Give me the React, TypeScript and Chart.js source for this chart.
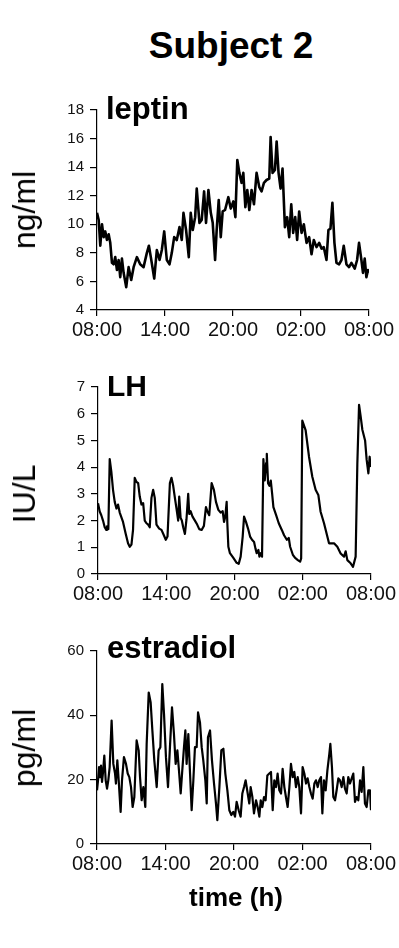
import React, { useEffect, useRef } from "react";
import { Chart, registerables } from "chart.js";

Chart.register(...registerables);

const FONT = "'Liberation Sans', Arial, Helvetica, sans-serif";

const chartTitle = "Subject 2";
const xAxisTitle = "time (h)";
const xTickHours = [0, 6, 12, 18, 24];
const xTickLabels = ["08:00", "14:00", "20:00", "02:00", "08:00"];

// Leptin (ng/ml)
const leptinHours = [
  0.0, 0.15, 0.29, 0.44, 0.59, 0.73, 0.88, 1.03, 1.17, 1.32,
  1.47, 1.61, 1.76, 1.91, 2.05, 2.2, 2.35, 2.58, 2.79, 3.02,
  3.23, 3.52, 3.81, 4.11, 4.4, 4.58, 4.75, 5.05, 5.28, 5.52,
  5.72, 5.93, 6.16, 6.4, 6.6, 6.81, 7.04, 7.28, 7.48, 7.63,
  7.86, 8.1, 8.27, 8.45, 8.66, 8.8, 9.04, 9.24, 9.45, 9.62,
  9.83, 10.04, 10.21, 10.42, 10.56, 10.74, 10.92, 11.09, 11.3, 11.59,
  11.8, 12.03, 12.21, 12.38, 12.56, 12.76, 12.91, 13.09, 13.26, 13.44,
  13.64, 13.85, 14.08, 14.32, 14.52, 14.73, 14.96, 15.2, 15.32, 15.49,
  15.7, 15.85, 16.02, 16.2, 16.37, 16.58, 16.78, 16.96, 17.14, 17.31,
  17.49, 17.66, 17.84, 18.05, 18.25, 18.49, 18.72, 18.93, 19.13, 19.37,
  19.6, 19.81, 20.01, 20.25, 20.42, 20.6, 20.77, 20.95, 21.13, 21.36,
  21.57, 21.77, 22.01, 22.24, 22.45, 22.74, 22.95, 23.12, 23.33, 23.47,
  23.62, 23.77, 23.91, 24.0,
];
const leptinValues = [
  10.8, 10.3, 8.5, 10.0, 9.1, 9.5, 8.9, 9.3, 8.7, 7.3,
  7.2, 7.7, 6.8, 7.5, 6.3, 7.6, 6.6, 5.6, 7.0, 6.1,
  7.0, 7.7, 7.2, 7.0, 8.0, 8.5, 7.7, 6.2, 8.2, 7.5,
  8.2, 9.5, 7.5, 7.2, 8.0, 9.1, 8.9, 9.8, 8.9, 10.8,
  9.6, 7.7, 10.8, 9.6, 10.5, 12.5, 10.1, 10.3, 12.3, 10.1,
  12.4, 10.8, 10.1, 7.5, 9.6, 11.7, 9.1, 10.9, 11.0, 11.9,
  11.1, 11.6, 10.5, 14.5, 13.6, 12.9, 13.6, 11.2, 12.4, 11.0,
  12.4, 11.4, 13.6, 12.6, 12.3, 12.9, 13.1, 13.2, 16.1, 13.6,
  13.8, 15.8, 13.6, 12.5, 13.9, 9.8, 10.5, 9.1, 11.4, 9.4,
  10.5, 8.9, 10.9, 9.4, 10.0, 8.7, 9.1, 7.9, 8.9, 8.4,
  8.7, 8.3, 8.4, 7.5, 9.6, 9.7, 11.5, 8.7, 7.3, 7.2,
  7.5, 8.5, 7.2, 7.0, 7.3, 6.9, 7.5, 8.7, 7.5, 6.6,
  7.6, 6.3, 6.8, 6.6,
];

// LH (IU/L)
const lhHours = [
  0.0, 0.15, 0.29, 0.44, 0.59, 0.73, 0.79, 0.91, 1.03, 1.18,
  1.32, 1.47, 1.62, 1.76, 1.91, 2.2, 2.44, 2.64, 2.79, 2.94,
  3.08, 3.23, 3.38, 3.53, 3.67, 3.82, 3.97, 4.11, 4.26, 4.41,
  4.55, 4.7, 4.85, 4.99, 5.14, 5.38, 5.58, 5.79, 5.96, 6.11,
  6.32, 6.46, 6.61, 6.76, 6.9, 7.05, 7.14, 7.26, 7.37, 7.49,
  7.64, 7.78, 7.93, 8.02, 8.14, 8.31, 8.52, 8.72, 8.9, 9.11,
  9.31, 9.49, 9.61, 9.78, 9.99, 10.19, 10.37, 10.58, 10.78, 10.96,
  11.08, 11.19, 11.31, 11.37, 11.46, 11.6, 11.9, 12.19, 12.37, 12.54,
  12.72, 12.84, 13.01, 13.19, 13.37, 13.54, 13.72, 13.84, 13.95, 14.1,
  14.19, 14.31, 14.42, 14.54, 14.66, 14.78, 14.84, 14.95, 15.07, 15.19,
  15.31, 15.42, 15.66, 15.89, 16.16, 16.36, 16.6, 16.77, 16.89, 17.13,
  17.33, 17.57, 17.77, 17.86, 17.96, 18.25, 18.55, 18.84, 19.13, 19.37,
  19.57, 19.87, 20.31, 20.75, 21.04, 21.33, 21.63, 21.77, 21.92, 22.21,
  22.42, 22.65, 22.8, 22.95, 23.09, 23.24, 23.48, 23.62, 23.77, 23.88,
  23.97,
];
const lhValues = [
  2.65, 2.34, 2.2, 2.0, 1.75, 1.65, 1.78, 1.68, 4.3, 3.8,
  3.15, 2.7, 2.45, 2.6, 2.3, 1.95, 1.5, 1.15, 1.02, 1.1,
  1.65, 3.6, 3.45, 3.4, 2.9, 2.6, 2.65, 2.0, 1.9, 1.85,
  1.75, 2.85, 3.15, 2.85, 1.85, 1.7, 1.65, 1.45, 1.28, 1.4,
  3.4, 3.6, 3.3, 2.85, 2.45, 2.0, 2.9, 2.1, 2.0, 1.75,
  1.5, 2.05, 3.0, 2.25, 2.35, 2.15, 2.0, 1.85, 1.68, 1.65,
  1.8, 2.5, 2.35, 2.2, 3.4, 3.15, 2.7, 2.4, 2.3, 2.35,
  1.95, 2.15, 2.7, 1.9, 1.02, 0.78, 0.6, 0.42, 0.38, 0.65,
  1.4, 2.15, 1.95, 1.7, 1.4, 1.28, 1.2, 0.96, 0.78, 0.9,
  0.65, 0.78, 0.65, 4.3, 3.5, 4.15, 4.5, 3.4, 3.3, 3.5,
  3.0, 2.5, 2.2, 1.9, 1.65, 1.45, 1.28, 1.35, 1.02, 0.72,
  0.6, 0.52, 0.46, 0.58, 5.74, 5.39, 4.39, 3.64, 3.15, 2.96,
  2.33, 1.9, 1.15, 1.15, 1.02, 0.77, 0.65, 0.85, 0.52, 0.4,
  0.27, 0.65, 4.15, 6.33, 5.9, 5.4, 5.0, 4.27, 3.77, 4.39,
  4.0,
];

// Estradiol (pg/ml)
const e2Hours = [
  0.0, 0.09, 0.18, 0.26, 0.35, 0.44, 0.53, 0.64, 0.76, 0.88,
  0.99, 1.11, 1.28, 1.43, 1.58, 1.66, 1.78, 1.9, 2.07, 2.19,
  2.36, 2.54, 2.69, 2.83, 2.98, 3.12, 3.27, 3.47, 3.65, 3.77,
  3.91, 4.06, 4.23, 4.35, 4.53, 4.7, 4.85, 5.02, 5.23, 5.4,
  5.55, 5.72, 5.87, 6.04, 6.22, 6.39, 6.57, 6.74, 6.89, 7.04,
  7.18, 7.33, 7.47, 7.62, 7.74, 7.85, 8.0, 8.15, 8.29, 8.44,
  8.58, 8.73, 8.85, 9.02, 9.17, 9.31, 9.49, 9.61, 9.72, 9.9,
  10.07, 10.25, 10.42, 10.54, 10.72, 10.89, 11.07, 11.24, 11.42, 11.59,
  11.77, 11.94, 12.09, 12.23, 12.41, 12.58, 12.73, 12.88, 13.02, 13.2,
  13.34, 13.46, 13.61, 13.75, 13.93, 14.07, 14.22, 14.34, 14.48, 14.63,
  14.77, 14.92, 15.09, 15.24, 15.39, 15.53, 15.68, 15.82, 15.97, 16.12,
  16.26, 16.41, 16.55, 16.7, 16.85, 16.99, 17.14, 17.28, 17.43, 17.58,
  17.72, 17.87, 18.01, 18.16, 18.31, 18.45, 18.6, 18.74, 18.89, 19.04,
  19.18, 19.33, 19.47, 19.62, 19.74, 19.88, 20.03, 20.18, 20.35, 20.44,
  20.58, 20.7, 20.85, 20.99, 21.14, 21.28, 21.43, 21.58, 21.72, 21.87,
  22.01, 22.16, 22.31, 22.45, 22.6, 22.74, 22.89, 23.04, 23.18, 23.33,
  23.47, 23.62, 23.77, 23.91, 24.0,
];
const e2Values = [
  16.7, 19.8, 23.9, 20.8, 24.4, 19.3, 22.4, 27.5, 19.8, 17.2,
  19.8, 23.9, 38.4, 24.9, 21.9, 18.8, 26.0, 19.8, 10.0, 19.8,
  27.0, 24.9, 21.9, 20.8, 17.7, 11.5, 14.6, 32.2, 29.1, 20.8,
  13.6, 17.7, 11.5, 31.1, 47.1, 44.0, 35.3, 26.0, 17.7, 29.1,
  30.1, 49.7, 40.4, 27.0, 17.7, 30.1, 42.5, 34.2, 24.9, 29.1,
  22.9, 15.7, 22.9, 30.1, 35.3, 24.9, 34.2, 21.9, 10.5, 19.8,
  30.1, 30.1, 40.9, 37.8, 30.1, 26.0, 19.8, 12.6, 33.2, 35.3,
  26.0, 18.8, 12.6, 7.4, 17.7, 29.1, 29.6, 21.9, 16.7, 10.5,
  9.0, 10.0, 8.5, 13.1, 10.5, 8.5, 15.7, 17.7, 19.8, 15.7,
  12.6, 17.7, 14.6, 9.5, 13.6, 11.5, 8.5, 13.6, 11.5, 14.6,
  13.6, 21.3, 21.9, 22.4, 10.5, 19.8, 17.7, 21.9, 16.7, 15.7,
  23.4, 17.7, 14.6, 11.5, 17.7, 24.9, 20.8, 22.4, 17.7, 20.8,
  17.7, 9.5, 23.9, 21.9, 18.8, 20.4, 17.7, 15.7, 14.1, 18.8,
  19.8, 17.7, 19.8, 20.8, 9.5, 19.8, 16.7, 22.9, 28.0, 31.1,
  23.9, 14.6, 13.6, 16.7, 20.4, 19.8, 17.7, 20.8, 17.2, 15.7,
  20.8, 18.8, 20.4, 21.9, 13.1, 14.6, 13.6, 19.8, 16.2, 23.9,
  12.6, 11.5, 16.7, 16.7, 10.5,
];

type PanelProps = {
  hours: number[];
  values: number[];
  yMin: number;
  yMax: number;
  yStep: number;
  left: number;
  top: number;
  width: number;
  height: number;
  axisLeft: number;
  axisRight: number;
  lineWidth: number;
};

function Panel(p: PanelProps) {
  const ref = useRef<HTMLCanvasElement | null>(null);
  useEffect(() => {
    if (!ref.current) return;
    const yAxisWidth = p.axisLeft - p.left;
    const padRight = p.left + p.width - p.axisRight;
    const chart = new Chart(ref.current, {
      type: "line",
      data: {
        datasets: [
          {
            data: p.hours.map((h, i) => ({ x: h, y: p.values[i] })),
            borderColor: "#000",
            borderWidth: p.lineWidth,
            pointRadius: 0,
            tension: 0,
            fill: false,
            borderJoinStyle: "round",
          },
        ],
      },
      options: {
        animation: false,
        responsive: false,
        devicePixelRatio: 1,
        layout: { padding: { top: 15, right: padRight, bottom: 0, left: 0 } },
        plugins: {
          legend: { display: false },
          tooltip: { enabled: false },
          title: { display: false },
        },
        scales: {
          x: {
            type: "linear",
            min: 0,
            max: 24,
            afterFit: (s: any) => {
              s.height = 40;
            },
            afterBuildTicks: (s: any) => {
              s.ticks = xTickHours.map((v) => ({ value: v }));
            },
            ticks: {
              autoSkip: false,
              maxRotation: 0,
              padding: 2,
              color: "#111",
              font: { family: FONT, size: 20 },
              callback: (_v: any, i: number) => xTickLabels[i],
            },
            grid: { drawOnChartArea: false, color: "#000", tickLength: 6, lineWidth: 1.2 },
            border: { color: "#000", width: 1.2 },
          },
          y: {
            type: "linear",
            min: p.yMin,
            max: p.yMax,
            afterFit: (s: any) => {
              s.width = yAxisWidth;
            },
            ticks: {
              stepSize: p.yStep,
              padding: 6,
              color: "#111",
              font: { family: FONT, size: 15 },
            },
            grid: { drawOnChartArea: false, color: "#000", tickLength: 7, lineWidth: 1.2 },
            border: { color: "#000", width: 1.2 },
          },
        },
      },
    } as any);
    return () => chart.destroy();
  }, []);
  return (
    <canvas
      ref={ref}
      width={p.width}
      height={p.height}
      style={{ position: "absolute", left: p.left, top: p.top, width: p.width, height: p.height }}
    />
  );
}

function RotText({ text, cx, cy }: { text: string; cx: number; cy: number }) {
  return (
    <div
      style={{
        position: "absolute",
        left: cx,
        top: cy,
        transform: "translate(-50%, -50%) rotate(-90deg)",
        fontFamily: FONT,
        fontSize: 32,
        lineHeight: 1,
        whiteSpace: "nowrap",
        color: "#000",
      }}
    >
      {text}
    </div>
  );
}

function Label({ text, left, top, size }: { text: string; left: number; top: number; size: number }) {
  return (
    <div
      style={{
        position: "absolute",
        left,
        top,
        fontFamily: FONT,
        fontWeight: "bold",
        fontSize: size,
        lineHeight: 1,
        whiteSpace: "nowrap",
        color: "#000",
      }}
    >
      {text}
    </div>
  );
}

export default function App() {
  return (
    <div style={{ position: "absolute", left: 0, top: 0, width: 399, height: 948, background: "#fff", overflow: "hidden" }}>
      <div
        style={{
          position: "absolute",
          left: 231,
          top: 27,
          transform: "translateX(-50%)",
          fontFamily: FONT,
          fontWeight: "bold",
          fontSize: 37,
          lineHeight: 1,
          whiteSpace: "nowrap",
        }}
      >
        {chartTitle}
      </div>

      <Panel hours={leptinHours} values={leptinValues} yMin={4} yMax={18} yStep={2}
        left={40} top={95} width={359} height={255} axisLeft={97} axisRight={369} lineWidth={2.6} />
      <Label text="leptin" left={106} top={93} size={31} />
      <RotText text="ng/ml" cx={24} cy={210} />

      <Panel hours={lhHours} values={lhValues} yMin={0} yMax={7} yStep={1}
        left={40} top={372} width={359} height={242} axisLeft={98} axisRight={371} lineWidth={2.2} />
      <Label text="LH" left={107} top={371} size={30} />
      <RotText text="IU/L" cx={24} cy={494} />

      <Panel hours={e2Hours} values={e2Values} yMin={0} yMax={60} yStep={20}
        left={40} top={636} width={359} height={248} axisLeft={97} axisRight={371} lineWidth={2.2} />
      <Label text="estradiol" left={107} top={632} size={31} />
      <RotText text="pg/ml" cx={24} cy={748} />

      <div
        style={{
          position: "absolute",
          left: 236,
          top: 884,
          transform: "translateX(-50%)",
          fontFamily: FONT,
          fontWeight: "bold",
          fontSize: 26,
          lineHeight: 1,
          whiteSpace: "nowrap",
        }}
      >
        {xAxisTitle}
      </div>
    </div>
  );
}
